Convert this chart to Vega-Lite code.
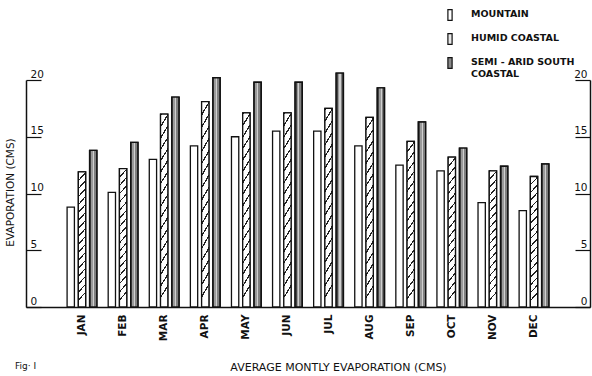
{
  "$schema": "https://vega.github.io/schema/vega-lite/v6.json",
  "width": 564,
  "height": 227,
  "autosize": {"type": "none"},
  "padding": {"left": 26, "top": 80, "right": 2, "bottom": 69},
  "background": "white",
  "config": {
    "view": {"stroke": null},
    "font": "DejaVu Sans",
    "axis": {"grid": false, "domainColor": "#111", "domainWidth": 1.5, "labelColor": "#111", "titleColor": "#111", "tickColor": "#111"}
  },
  "title": {"text": "Fig· I", "orient": "bottom", "anchor": "start", "frame": "group", "fontSize": 9, "fontWeight": "normal", "color": "#111", "dx": -11, "dy": -10, "offset": 0},
  "data": {
    "values": [
      {"month": "JAN", "series": "MOUNTAIN", "evap": 8.8},
      {"month": "JAN", "series": "HUMID COASTAL", "evap": 11.9},
      {"month": "JAN", "series": "SEMI - ARID SOUTH COASTAL", "evap": 13.8},
      {"month": "FEB", "series": "MOUNTAIN", "evap": 10.1},
      {"month": "FEB", "series": "HUMID COASTAL", "evap": 12.2},
      {"month": "FEB", "series": "SEMI - ARID SOUTH COASTAL", "evap": 14.5},
      {"month": "MAR", "series": "MOUNTAIN", "evap": 13.0},
      {"month": "MAR", "series": "HUMID COASTAL", "evap": 17.0},
      {"month": "MAR", "series": "SEMI - ARID SOUTH COASTAL", "evap": 18.5},
      {"month": "APR", "series": "MOUNTAIN", "evap": 14.2},
      {"month": "APR", "series": "HUMID COASTAL", "evap": 18.1},
      {"month": "APR", "series": "SEMI - ARID SOUTH COASTAL", "evap": 20.2},
      {"month": "MAY", "series": "MOUNTAIN", "evap": 15.0},
      {"month": "MAY", "series": "HUMID COASTAL", "evap": 17.1},
      {"month": "MAY", "series": "SEMI - ARID SOUTH COASTAL", "evap": 19.8},
      {"month": "JUN", "series": "MOUNTAIN", "evap": 15.5},
      {"month": "JUN", "series": "HUMID COASTAL", "evap": 17.1},
      {"month": "JUN", "series": "SEMI - ARID SOUTH COASTAL", "evap": 19.8},
      {"month": "JUL", "series": "MOUNTAIN", "evap": 15.5},
      {"month": "JUL", "series": "HUMID COASTAL", "evap": 17.5},
      {"month": "JUL", "series": "SEMI - ARID SOUTH COASTAL", "evap": 20.6},
      {"month": "AUG", "series": "MOUNTAIN", "evap": 14.2},
      {"month": "AUG", "series": "HUMID COASTAL", "evap": 16.7},
      {"month": "AUG", "series": "SEMI - ARID SOUTH COASTAL", "evap": 19.3},
      {"month": "SEP", "series": "MOUNTAIN", "evap": 12.5},
      {"month": "SEP", "series": "HUMID COASTAL", "evap": 14.6},
      {"month": "SEP", "series": "SEMI - ARID SOUTH COASTAL", "evap": 16.3},
      {"month": "OCT", "series": "MOUNTAIN", "evap": 12.0},
      {"month": "OCT", "series": "HUMID COASTAL", "evap": 13.2},
      {"month": "OCT", "series": "SEMI - ARID SOUTH COASTAL", "evap": 14.0},
      {"month": "NOV", "series": "MOUNTAIN", "evap": 9.2},
      {"month": "NOV", "series": "HUMID COASTAL", "evap": 12.0},
      {"month": "NOV", "series": "SEMI - ARID SOUTH COASTAL", "evap": 12.4},
      {"month": "DEC", "series": "MOUNTAIN", "evap": 8.5},
      {"month": "DEC", "series": "HUMID COASTAL", "evap": 11.5},
      {"month": "DEC", "series": "SEMI - ARID SOUTH COASTAL", "evap": 12.6}
    ]
  },
  "encoding": {
    "x": {
      "field": "month", "type": "nominal",
      "scale": {"domain": ["JAN","FEB","MAR","APR","MAY","JUN","JUL","AUG","SEP","OCT","NOV","DEC"], "paddingInner": 0.275, "paddingOuter": 1.066},
      "axis": {"ticks": false, "labelAngle": -90, "labelPadding": 7, "labelFontSize": 10.5, "labelFontWeight": "bold",
        "title": "AVERAGE MONTLY EVAPORATION (CMS)", "titleX": 312, "titleY": 63, "titleAlign": "center", "titleBaseline": "alphabetic", "titleFontSize": 11, "titleFontWeight": "normal"}
    },
    "xOffset": {
      "field": "series", "type": "nominal",
      "scale": {"domain": ["MOUNTAIN", "HUMID COASTAL", "SEMI - ARID SOUTH COASTAL"], "paddingInner": 0.35, "paddingOuter": 0}
    },
    "y": {
      "field": "evap", "type": "quantitative",
      "scale": {"domain": [0, 20], "nice": false, "zero": true}
    }
  },
  "layer": [
    {
      "mark": {"type": "bar", "stroke": "#111", "strokeWidth": 1.3, "clip": false},
      "encoding": {
        "y": {
          "field": "evap", "type": "quantitative",
          "axis": {"orient": "left", "values": [0, 5, 10, 15, 20], "tickSize": -15, "tickWidth": 1.2, "labelAlign": "left", "labelBaseline": "alphabetic", "labelPadding": 11, "labelOffset": -3, "labelFontSize": 10.5,
            "title": "EVAPORATION (CMS)", "titleX": -16, "titleY": 112, "titleAngle": -90, "titleAlign": "center", "titleBaseline": "middle", "titleFontSize": 10.5, "titleFontWeight": "normal"}
        },
        "fill": {
          "field": "series", "type": "nominal",
          "scale": {"domain": ["MOUNTAIN", "HUMID COASTAL", "SEMI - ARID SOUTH COASTAL"], "range": ["#ffffff", "#e8e8e8", "#8a8a8a"]},
          "legend": {
            "title": null, "orient": "none", "legendX": 417, "legendY": -72, "padding": 0, "rowPadding": 8,
            "symbolType": "M-0.35,-0.9H0.35V0.9H-0.35Z", "symbolSize": 144, "symbolStrokeColor": "#111", "symbolStrokeWidth": 1.2, "symbolOpacity": 1,
            "labelFontSize": 9.5, "labelFontWeight": "bold", "labelColor": "#111", "labelOffset": 14, "labelLimit": 200, "labelBaseline": "top",
            "labelExpr": "datum.value == 'SEMI - ARID SOUTH COASTAL' ? ['SEMI - ARID SOUTH', 'COASTAL'] : datum.label",
            "encode": {
              "labels": {"update": {"dy": {"value": -6}}},
              "symbols": {
                "update": {
                  "stroke": {"value": "#111"},
                  "strokeWidth": {"value": 1.2},
                  "opacity": {"value": 1},
                  "fillOpacity": {"value": 1},
                  "strokeOpacity": {"value": 1},
                  "fill": [
                    {"test": "datum.value == 'HUMID COASTAL'", "value": {"gradient": "linear", "x1": 0, "y1": 0, "x2": 0.6, "y2": 1, "stops": [{"offset": 0, "color": "#fff"}, {"offset": 0.42, "color": "#fff"}, {"offset": 0.42, "color": "#222"}, {"offset": 0.6, "color": "#222"}, {"offset": 0.6, "color": "#fff"}, {"offset": 1, "color": "#fff"}]}},
                    {"test": "datum.value == 'SEMI - ARID SOUTH COASTAL'", "value": {"gradient": "linear", "x1": 0, "y1": 0, "x2": 1, "y2": 0, "stops": [{"offset": 0, "color": "#333"}, {"offset": 0.3, "color": "#333"}, {"offset": 0.3, "color": "#fff"}, {"offset": 0.42, "color": "#fff"}, {"offset": 0.42, "color": "#333"}, {"offset": 0.58, "color": "#333"}, {"offset": 0.58, "color": "#fff"}, {"offset": 0.7, "color": "#fff"}, {"offset": 0.7, "color": "#333"}, {"offset": 1, "color": "#333"}]}},
                    {"value": "#ffffff"}
                  ]
                }
              }
            }
          }
        }
      }
    },
    {
      "transform": [{"filter": "datum.series == 'HUMID COASTAL'"}],
      "mark": {"type": "bar", "stroke": "#111", "strokeWidth": 1.3, "clip": false,
        "fill": {"gradient": "linear", "x1": 0, "y1": 0, "x2": 0.061, "y2": 1, "stops": [
          {"offset": 0, "color": "#222"}, {"offset": 0.01176, "color": "#222"}, {"offset": 0.01176, "color": "#fff"}, {"offset": 0.05882, "color": "#fff"},
          {"offset": 0.05882, "color": "#222"}, {"offset": 0.07059, "color": "#222"}, {"offset": 0.07059, "color": "#fff"}, {"offset": 0.11765, "color": "#fff"},
          {"offset": 0.11765, "color": "#222"}, {"offset": 0.12941, "color": "#222"}, {"offset": 0.12941, "color": "#fff"}, {"offset": 0.17647, "color": "#fff"},
          {"offset": 0.17647, "color": "#222"}, {"offset": 0.18824, "color": "#222"}, {"offset": 0.18824, "color": "#fff"}, {"offset": 0.23529, "color": "#fff"},
          {"offset": 0.23529, "color": "#222"}, {"offset": 0.24706, "color": "#222"}, {"offset": 0.24706, "color": "#fff"}, {"offset": 0.29412, "color": "#fff"},
          {"offset": 0.29412, "color": "#222"}, {"offset": 0.30588, "color": "#222"}, {"offset": 0.30588, "color": "#fff"}, {"offset": 0.35294, "color": "#fff"},
          {"offset": 0.35294, "color": "#222"}, {"offset": 0.36471, "color": "#222"}, {"offset": 0.36471, "color": "#fff"}, {"offset": 0.41176, "color": "#fff"},
          {"offset": 0.41176, "color": "#222"}, {"offset": 0.42353, "color": "#222"}, {"offset": 0.42353, "color": "#fff"}, {"offset": 0.47059, "color": "#fff"},
          {"offset": 0.47059, "color": "#222"}, {"offset": 0.48235, "color": "#222"}, {"offset": 0.48235, "color": "#fff"}, {"offset": 0.52941, "color": "#fff"},
          {"offset": 0.52941, "color": "#222"}, {"offset": 0.54118, "color": "#222"}, {"offset": 0.54118, "color": "#fff"}, {"offset": 0.58824, "color": "#fff"},
          {"offset": 0.58824, "color": "#222"}, {"offset": 0.6, "color": "#222"}, {"offset": 0.6, "color": "#fff"}, {"offset": 0.64706, "color": "#fff"},
          {"offset": 0.64706, "color": "#222"}, {"offset": 0.65882, "color": "#222"}, {"offset": 0.65882, "color": "#fff"}, {"offset": 0.70588, "color": "#fff"},
          {"offset": 0.70588, "color": "#222"}, {"offset": 0.71765, "color": "#222"}, {"offset": 0.71765, "color": "#fff"}, {"offset": 0.76471, "color": "#fff"},
          {"offset": 0.76471, "color": "#222"}, {"offset": 0.77647, "color": "#222"}, {"offset": 0.77647, "color": "#fff"}, {"offset": 0.82353, "color": "#fff"},
          {"offset": 0.82353, "color": "#222"}, {"offset": 0.83529, "color": "#222"}, {"offset": 0.83529, "color": "#fff"}, {"offset": 0.88235, "color": "#fff"},
          {"offset": 0.88235, "color": "#222"}, {"offset": 0.89412, "color": "#222"}, {"offset": 0.89412, "color": "#fff"}, {"offset": 0.94118, "color": "#fff"},
          {"offset": 0.94118, "color": "#222"}, {"offset": 0.95294, "color": "#222"}, {"offset": 0.95294, "color": "#fff"}, {"offset": 1, "color": "#fff"}
        ]}},
      "encoding": {
        "y": {
          "field": "evap", "type": "quantitative",
          "axis": {"orient": "right", "values": [0, 5, 10, 15, 20], "tickSize": -15, "tickWidth": 1.2, "labelAlign": "right", "labelBaseline": "alphabetic", "labelPadding": 12, "labelOffset": -3, "labelFontSize": 10.5, "title": null}
        }
      }
    },
    {
      "transform": [{"filter": "datum.series == 'SEMI - ARID SOUTH COASTAL'"}],
      "mark": {"type": "bar", "stroke": "#111", "strokeWidth": 1.3, "clip": false,
        "fill": {"gradient": "linear", "x1": 0, "y1": 0, "x2": 1, "y2": 0, "stops": [
          {"offset": 0, "color": "#444"}, {"offset": 0.2, "color": "#444"}, {"offset": 0.2, "color": "#9a9a9a"}, {"offset": 0.45, "color": "#9a9a9a"},
          {"offset": 0.45, "color": "#d0d0d0"}, {"offset": 0.6, "color": "#d0d0d0"}, {"offset": 0.6, "color": "#808080"}, {"offset": 0.85, "color": "#808080"},
          {"offset": 0.85, "color": "#444"}, {"offset": 1, "color": "#444"}
        ]}},
      "encoding": {
        "y": {"field": "evap", "type": "quantitative", "axis": null}
      }
    }
  ],
  "resolve": {"axis": {"y": "independent"}}
}
